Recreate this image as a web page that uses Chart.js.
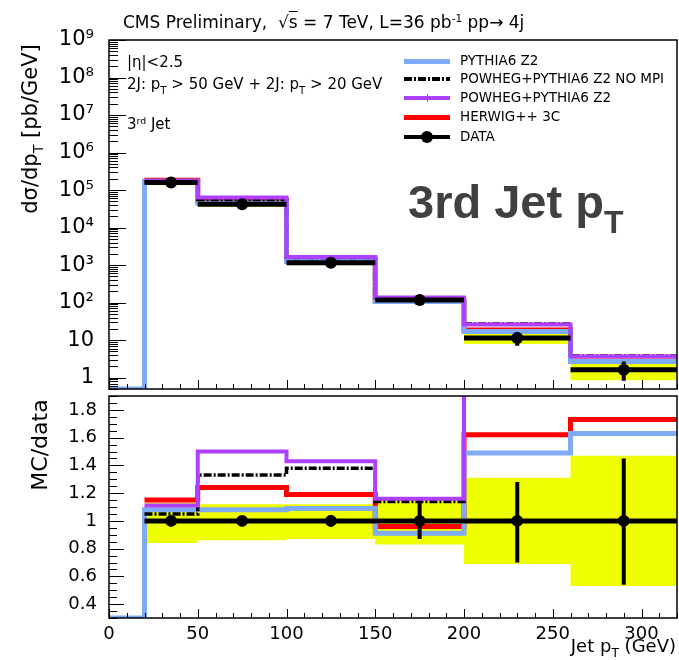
<!DOCTYPE html>
<html>
<head>
<meta charset="utf-8">
<script src="https://cdn.jsdelivr.net/npm/chart.js@4.4.1/dist/chart.umd.min.js"></script>
<style>
  html, body { margin: 0; padding: 0; background: #fff; }
  #wrap { position: relative; width: 679px; height: 660px; overflow: hidden; font-family: "DejaVu Sans", sans-serif; color: #000; }
  #cTop { position: absolute; left: 0; top: 0; }
  #cRatio { position: absolute; left: 0; top: 392px; }
  .t { position: absolute; white-space: nowrap; line-height: 1; }
  .sup { font-size: 0.62em; position: relative; top: -0.55em; }
  .sub { font-size: 0.68em; position: relative; top: 0.45em; }
  .rot { position: absolute; white-space: nowrap; line-height: 1; transform: translate(-50%, -50%) rotate(-90deg); }
  .ls { position: absolute; left: 404px; width: 46px; }
  .lt { position: absolute; left: 460px; font-size: 13.5px; line-height: 1; white-space: nowrap; }
</style>
</head>
<body>
<div id="wrap">
  <canvas id="cTop" width="679" height="392"></canvas>
  <canvas id="cRatio" width="679" height="268"></canvas>

  <div class="t" style="left:123px; top:13.6px; font-size:17px;">CMS Preliminary, &nbsp;√<span style="text-decoration:overline">s</span> = 7 TeV, L=36 pb<span class="sup">-1</span> pp→ 4j</div>

  <div class="t" style="left:127px; top:55.3px; font-size:15px;">|η|&lt;2.5</div>
  <div class="t" style="left:127px; top:77.3px; font-size:15px;">2J: p<span class="sub">T</span> &gt; 50 GeV + 2J: p<span class="sub">T</span> &gt; 20 GeV</div>
  <div class="t" style="left:127px; top:117.3px; font-size:15px;">3<span class="sup">rd</span> Jet</div>

  <div class="t" style="left:408px; top:178.2px; font-family:'Liberation Sans',Arial,sans-serif; font-weight:bold; font-size:47px; color:#404040;">3rd Jet p<span style="font-size:0.68em; position:relative; top:15px;">T</span></div>

  <!-- legend -->
  <div class="ls" style="top:58.5px; height:5px; background:#7faaf5;"></div>
  <div class="lt" style="top:54px;">PYTHIA6 Z2</div>
  <div class="ls" style="top:77.3px; height:4px; background:repeating-linear-gradient(90deg,#000 0 8px,#fff 8px 10px,#000 10px 12px,#fff 12px 14px);"></div>
  <div class="lt" style="top:72.3px;">POWHEG+PYTHIA6 Z2 NO MPI</div>
  <div class="ls" style="top:96.3px; height:4px; background:#b040ff;"></div>
  <div style="position:absolute; left:426.5px; top:94.3px; width:1.5px; height:8px; background:#b040ff;"></div>
  <div class="lt" style="top:91.3px;">POWHEG+PYTHIA6 Z2</div>
  <div class="ls" style="top:114.8px; height:5px; background:#ff0000;"></div>
  <div class="lt" style="top:110.3px;">HERWIG++ 3C</div>
  <div class="ls" style="top:134.7px; height:4px; background:#000;"></div>
  <div style="position:absolute; left:421px; top:130.7px; width:12px; height:12px; border-radius:50%; background:#000;"></div>
  <div class="lt" style="top:129.7px;">DATA</div>

  <div class="rot" style="left:30px; top:129px; font-size:21px;">dσ/dp<span class="sub">T</span> [pb/GeV]</div>
  <div class="rot" style="left:40px; top:445px; font-size:22px;">MC/data</div>
  <div class="t" style="right:3px; top:636.8px; font-size:18px;">Jet p<span class="sub">T</span> (GeV)</div>
</div>

<script>
// bins of the 3rd jet pT (GeV)
const binEdges = [20, 50, 100, 150, 200, 260, 320];
const binCenters = [35, 75, 125, 175, 230, 290];

// upper panel: dsigma/dpT [pb/GeV]
const dataXsec    = [1.6e5, 4.2e4, 1.15e3, 118, 11.5, 1.63];
const dataStatLo  = [1.55e5, 4.1e4, 1.1e3, 103, 7.1, 0.83];
const dataStatHi  = [1.65e5, 4.3e4, 1.2e3, 133, 16, 2.7];
const dataSysLo   = [1.35e5, 3.6e4, 1.0e3, 98, 7.9, 0.86];
const dataSysHi   = [1.8e5, 4.7e4, 1.29e3, 136, 15, 2.4];
const pythiaZ2    = [1.73e5, 4.5e4, 1.25e3, 107, 17, 2.7];
const powhegNoMpi = [1.68e5, 5.6e4, 1.59e3, 135, 27, 3.8];
const powhegZ2    = [1.78e5, 6.3e4, 1.64e3, 137, 26, 3.7];
const herwig3C    = [1.84e5, 5.2e4, 1.37e3, 113, 18.6, 2.8];

// PYTHIA histogram also has an (empty) 0-20 GeV bin sitting on the axis floor
const pythiaLowEdge = 0;
const pythiaLowBin = 0.5;
const pythiaLowBinRatio = 0.3;

// lower panel: MC/data
const ratioData    = [1, 1, 1, 1, 1, 1];
const ratioStatLo  = [0.97, 0.98, 0.96, 0.87, 0.70, 0.54];
const ratioStatHi  = [1.03, 1.02, 1.04, 1.13, 1.28, 1.45];
const ratioSysLo   = [0.84, 0.86, 0.87, 0.83, 0.69, 0.53];
const ratioSysHi   = [1.13, 1.12, 1.12, 1.15, 1.31, 1.47];
const ratioPythia  = [1.08, 1.08, 1.09, 0.91, 1.49, 1.63];
const ratioNoMpi   = [1.05, 1.33, 1.38, 1.14, 2.4, 2.3];
const ratioPowheg  = [1.11, 1.50, 1.43, 1.16, 2.3, 2.3];
const ratioHerwig  = [1.15, 1.24, 1.19, 0.96, 1.62, 1.73];

// tick labels
const xTickValues = [0, 50, 100, 150, 200, 250, 300];
const xTickLabels = ['0', '50', '100', '150', '200', '250', '300'];
const yTopTickValues = [1, 10, 1e2, 1e3, 1e4, 1e5, 1e6, 1e7, 1e8, 1e9];
const yTopTickLabels = ['1', '10', '10²', '10³', '10⁴', '10⁵', '10⁶', '10⁷', '10⁸', '10⁹'];
const yRatioTickValues = [0.4, 0.6, 0.8, 1, 1.2, 1.4, 1.6, 1.8];
const yRatioTickLabels = ['0.4', '0.6', '0.8', '1', '1.2', '1.4', '1.6', '1.8'];

const BLUE = '#7faaf5', PURPLE = '#b040ff', RED = '#ff0000', YELLOW = '#f0ff00';
const FONT = "'DejaVu Sans', sans-serif";

// histogram outline, one point per left edge plus the last right edge
function steps(edges, vals) {
    const pts = vals.map((v, i) => ({ x: edges[i], y: v }));
    pts.push({ x: edges[edges.length - 1], y: vals[vals.length - 1] });
    return pts;
}
// horizontal bars across each bin (x error bars)
function hbars(edges, vals) {
    const pts = [];
    vals.forEach((v, i) => pts.push({ x: edges[i], y: v }, { x: edges[i + 1], y: v }, { x: edges[i + 1], y: null }));
    return pts;
}
// vertical error bars at bin centres
function vbars(xs, lo, hi) {
    const pts = [];
    xs.forEach((x, i) => pts.push({ x, y: lo[i] }, { x, y: hi[i] }, { x, y: null }));
    return pts;
}

function buildDatasets(d) {
    // 'before' in Chart.js draws horizontally first, then the vertical edge
    const line = (data, color, width, extra) => Object.assign({
        data, borderColor: color, borderWidth: width, pointRadius: 0, fill: false, stepped: 'before'
    }, extra || {});
    // first dataset is drawn on top
    return [
        { data: binCenters.map((x, i) => ({ x, y: d.val[i] })), showLine: false, pointRadius: 6,
          pointBackgroundColor: '#000', pointBorderWidth: 0 },
        line(vbars(binCenters, d.statLo, d.statHi), '#000', 4, { stepped: false }),
        line(hbars(binEdges, d.val), '#000', 5, { stepped: false }),
        line(steps(binEdges, d.powheg), PURPLE, 4),
        line(steps(binEdges, d.nompi), '#000', 3.5, { borderDash: [8, 2, 2, 2] }),
        line(steps([pythiaLowEdge, ...binEdges], [d.low, ...d.pythia]), BLUE, 5),
        line(steps(binEdges, d.herwig), RED, 5),
        line(steps(binEdges, d.sysHi), 'rgba(0,0,0,0)', 0),
        line(steps(binEdges, d.sysLo), 'rgba(0,0,0,0)', 0, { fill: '-1', backgroundColor: YELLOW })
    ];
}

// ROOT-like frame with ticks drawn inside the pad
const rootAxes = {
    id: 'rootAxes',
    afterDatasetsDraw(chart, args, o) {
        const { ctx, chartArea: a, scales: { x, y } } = chart;
        ctx.save();
        ctx.strokeStyle = '#000';
        ctx.lineWidth = 1;
        ctx.beginPath();
        y.ticks.forEach(t => {
            const p = Math.round(y.getPixelForValue(t.value)) + 0.5;
            if (p < a.top - 1 || p > a.bottom + 1) return;
            ctx.moveTo(a.left, p);
            ctx.lineTo(a.left + (t.major ? o.yMajor : o.yMinor), p);
        });
        x.ticks.forEach(t => {
            const p = Math.round(x.getPixelForValue(t.value)) + 0.5;
            ctx.moveTo(p, a.bottom);
            ctx.lineTo(p, a.bottom - (t.major ? o.xMajor : o.xMinor));
        });
        ctx.stroke();
        ctx.lineWidth = 1.5;
        ctx.strokeRect(a.left, a.top, a.right - a.left, a.bottom - a.top);
        ctx.restore();
    }
};

// no extra room for overhanging first/last tick labels: the pads are placed by hand
function noPad(s) {
    s.paddingTop = 0; s.paddingBottom = 0; s.paddingLeft = 0; s.paddingRight = 0;
}

function xTicks(axis) {
    const t = [];
    for (let v = 0; v <= 320; v += 10) t.push({ value: v, major: v % 50 === 0 });
    axis.ticks = t;
}
function xScale(showLabels) {
    return {
        type: 'linear', min: 0, max: 320,
        afterBuildTicks: xTicks,
        grid: { display: false }, border: { display: false },
        ticks: {
            display: showLabels, autoSkip: false, maxRotation: 0, padding: -2, color: '#000',
            font: { family: FONT, size: 18 },
            callback: v => { const i = xTickValues.indexOf(v); return i >= 0 ? xTickLabels[i] : ''; }
        },
        afterFit: s => { s.height = showLabels ? 42 : 0; noPad(s); }
    };
}

const common = {
    responsive: false,
    animation: false,
    events: [],
    plugins: { legend: { display: false }, tooltip: { enabled: false } }
};

Chart.defaults.font.family = FONT;

new Chart(document.getElementById('cTop'), {
    type: 'line',
    data: { datasets: buildDatasets({
        val: dataXsec, statLo: dataStatLo, statHi: dataStatHi, sysLo: dataSysLo, sysHi: dataSysHi,
        pythia: pythiaZ2, nompi: powhegNoMpi, powheg: powhegZ2, herwig: herwig3C, low: pythiaLowBin
    }) },
    options: Object.assign({}, common, {
        layout: { autoPadding: false, padding: { top: 40, right: 2, bottom: 3, left: 0 } },
        plugins: Object.assign({}, common.plugins, { rootAxes: { yMajor: 17, yMinor: 9, xMajor: 9, xMinor: 5 } }),
        scales: {
            x: xScale(false),
            y: {
                type: 'logarithmic', min: 0.5, max: 1e9,
                afterBuildTicks: axis => {
                    const t = [];
                    for (let n = -1; n <= 8; n++) {
                        for (let m = 1; m <= 9; m++) {
                            const v = m * Math.pow(10, n);
                            if (v >= 0.5 && v <= 1e9) t.push({ value: m === 1 ? yTopTickValues[n] || v : v, major: m === 1 });
                        }
                    }
                    t.push({ value: 1e9, major: true });
                    axis.ticks = t;
                },
                grid: { display: false }, border: { display: false },
                ticks: {
                    autoSkip: false, padding: 7, color: '#000', font: { family: FONT, size: 21 },
                    callback: v => { const i = yTopTickValues.indexOf(v); return i >= 0 ? yTopTickLabels[i] : ''; }
                },
                afterFit: s => { s.width = 109; noPad(s); }
            }
        }
    }),
    plugins: [rootAxes]
});

new Chart(document.getElementById('cRatio'), {
    type: 'line',
    data: { datasets: buildDatasets({
        val: ratioData, statLo: ratioStatLo, statHi: ratioStatHi, sysLo: ratioSysLo, sysHi: ratioSysHi,
        pythia: ratioPythia, nompi: ratioNoMpi, powheg: ratioPowheg, herwig: ratioHerwig, low: pythiaLowBinRatio
    }) },
    options: Object.assign({}, common, {
        layout: { autoPadding: false, padding: { top: 4, right: 2, bottom: 0, left: 0 } },
        plugins: Object.assign({}, common.plugins, { rootAxes: { yMajor: 15, yMinor: 8, xMajor: 9, xMinor: 5 } }),
        scales: {
            x: xScale(true),
            y: {
                type: 'linear', min: 0.3, max: 1.9,
                afterBuildTicks: axis => {
                    const t = [];
                    for (let k = 6; k <= 38; k++) {
                        const v = Math.round(k * 5) / 100;
                        t.push({ value: v, major: k % 4 === 0 });
                    }
                    axis.ticks = t;
                },
                grid: { display: false }, border: { display: false },
                ticks: {
                    autoSkip: false, padding: 4, color: '#000', font: { family: FONT, size: 18 },
                    callback: v => {
                        const i = yRatioTickValues.findIndex(r => Math.abs(r - v) < 1e-6);
                        return i >= 0 ? yRatioTickLabels[i] : '';
                    }
                },
                afterFit: s => { s.width = 109; noPad(s); }
            }
        }
    }),
    plugins: [rootAxes]
});
</script>
</body>
</html>
